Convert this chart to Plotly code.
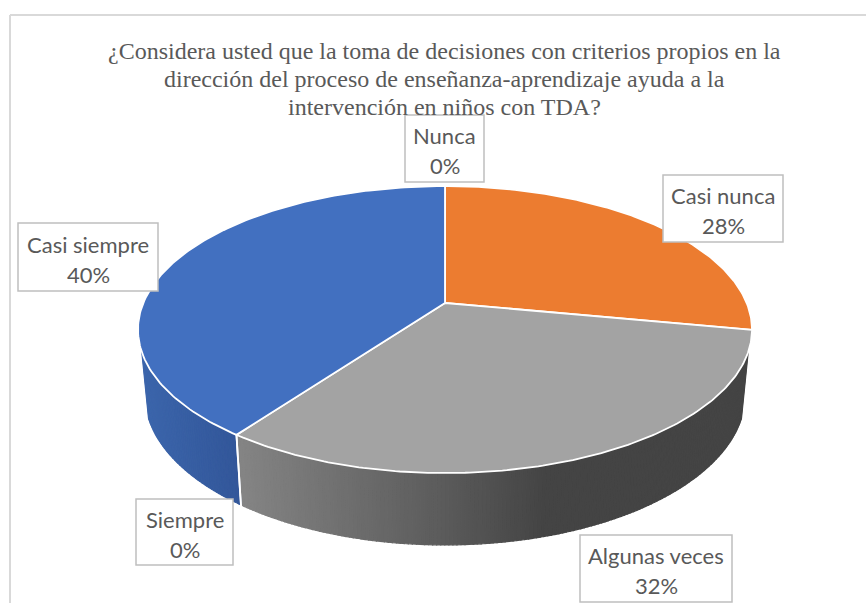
import numpy as np
import plotly.graph_objects as go

# ---- data ----
categories = ["Nunca", "Casi nunca", "Algunas veces", "Siempre", "Casi siempre"]
values = [0, 28, 32, 0, 40]
face_colors = ["#5B9BD5", "#EC7C30", "#A3A3A3", "#FFC000", "#4270C0"]
title_lines = [
    "¿Considera usted que la toma de decisiones con criterios propios en la",
    "dirección del proceso de enseñanza-aprendizaje ayuda a la",
    "intervención en niños con TDA?",
]

# ---- layout / styling ----
W, H = 866, 603
CX = 445
K = 0.185
TOP = dict(y0=303.0, a=138.6, b=301.7)
BOT = dict(y0=367.0, a=145.0, b=295.0)
V_LIMIT = -0.332                      # rim silhouette
boxes = {
    "Nunca": (405, 115, 484, 182),
    "Casi nunca": (663, 175, 783, 242),
    "Algunas veces": (580, 535, 732, 602),
    "Siempre": (136, 499, 233, 565),
    "Casi siempre": (18, 223, 158, 291),
}
wall_stops = {
    "Algunas veces": [(242, (0x84, 0x84, 0x84)), (433, (0x5D, 0x5D, 0x5D)),
                      (545, (0x44, 0x44, 0x44)), (760, (0x44, 0x44, 0x44))],
    "Casi siempre": [(140, (0x3C, 0x66, 0xAC)), (241, (0x32, 0x56, 0x99))],
    "Casi nunca": [(0, (0x8E, 0x4B, 0x1D)), (866, (0x8E, 0x4B, 0x1D))],
}


def project(theta, plane, r=1.0):
    """theta: clockwise from 12 o'clock, radians."""
    u, v = r * np.sin(theta), r * np.cos(theta)
    d = 1 + K * v
    return CX + plane["b"] * u / d, plane["y0"] - plane["a"] * v / d


def wall_color(name, x):
    st = wall_stops[name]
    xs = [s[0] for s in st]
    rgb = [float(np.interp(x, xs, [s[1][i] for s in st])) for i in range(3)]
    return "rgb(%d,%d,%d)" % tuple(round(c) for c in rgb)


fig = go.Figure()


def poly(xs, ys, fill, line, width):
    fig.add_trace(go.Scatter(x=list(xs), y=list(ys), mode="lines", fill="toself",
                             fillcolor=fill, line=dict(color=line, width=width),
                             hoverinfo="skip", showlegend=False))


total = sum(values)
edges = np.cumsum([0] + values) / total * 2 * np.pi
lim_a = np.arccos(V_LIMIT)
lim_b = 2 * np.pi - lim_a

# side walls
for name, v, t0, t1 in zip(categories, values, edges[:-1], edges[1:]):
    a, b = max(t0, lim_a), min(t1, lim_b)
    if v == 0 or b <= a:
        continue
    steps = np.linspace(a, b, max(2, int((b - a) * 90)))
    for s0, s1 in zip(steps[:-1], steps[1:]):
        ss = np.linspace(s0, s1, 3)
        xt, yt = project(ss, TOP)
        xb, yb = project(ss[::-1], BOT)
        xs = np.r_[xt, xb, xt[0]]
        ys = np.r_[yt, yb, yt[0]]
        c = wall_color(name, xs.mean())
        poly(xs, ys, c, c, 1.2)

# white seam on walls where slices meet
for t in edges[1:-1]:
    if lim_a < t < lim_b:
        xa, ya = project(t, TOP)
        xb, yb = project(t, BOT)
        fig.add_trace(go.Scatter(x=[xa, xb], y=[ya, yb + 2], mode="lines",
                                 line=dict(color="white", width=1.8),
                                 hoverinfo="skip", showlegend=False))

# top faces
for name, col, v, t0, t1 in zip(categories, face_colors, values, edges[:-1], edges[1:]):
    if v == 0:
        continue
    ss = np.linspace(t0, t1, 160)
    xr, yr = project(ss, TOP)
    xc, yc = project(0.0, TOP, r=0.0)
    poly(np.r_[xc, xr, xc], np.r_[yc, yr, yc], col, "white", 1.8)

shapes = [
    dict(type="line", x0=10, y0=15, x1=W, y1=15, line=dict(color="#D9D9D9", width=2)),
    dict(type="line", x0=10, y0=15, x1=10, y1=H, line=dict(color="#D9D9D9", width=2)),
]
annotations = []
for name, v in zip(categories, values):
    x0, y0, x1, y1 = boxes[name]
    shapes.append(dict(type="rect", x0=x0, y0=y0, x1=x1, y1=y1, fillcolor="white",
                       line=dict(color="#BFBFBF", width=1.5), layer="above"))
    h = y1 - y0
    for frac, txt in ((0.31, name), (0.76, f"{round(100 * v / total)}%")):
        annotations.append(dict(x=(x0 + x1) / 2, y=y0 + frac * h, text=txt, showarrow=False,
                                xanchor="center", yanchor="middle", xref="x", yref="y",
                                font=dict(family="Lato", size=22, color="#595959")))

for txt, y in zip(title_lines, (51, 79, 107)):
    annotations.append(dict(x=444, y=y, text=txt, showarrow=False, xanchor="center",
                            yanchor="middle", xref="x", yref="y",
                            font=dict(family="Liberation Serif", size=24, color="#595959")))

fig.update_layout(
    width=W, height=H, margin=dict(l=0, r=0, t=0, b=0),
    paper_bgcolor="white", plot_bgcolor="white", showlegend=False,
    xaxis=dict(range=[0, W], visible=False, fixedrange=True),
    yaxis=dict(range=[H, 0], visible=False, fixedrange=True),
    shapes=shapes, annotations=annotations,
)
fig.write_html("out.html", config={"displayModeBar": False},
               post_script="document.body.style.margin='0';window.dispatchEvent(new Event('resize'));")
